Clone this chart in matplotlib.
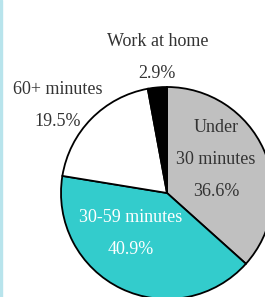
import matplotlib.pyplot as plt
from matplotlib.patches import Rectangle

categories = ['Under\n30 minutes', '30-59 minutes', '60+ minutes', 'Work at home']
shares = [36.6, 40.9, 19.5, 2.9]
colors = ['#c0c0c0', '#33cccc', '#ffffff', '#000000']

plt.rcParams['font.family'] = ['Liberation Serif', 'DejaVu Serif']

W, H = 265, 297
fig = plt.figure(figsize=(W / 100, H / 100), dpi=100)
ax = fig.add_axes([0, 0, 1, 1])
ax.set_xlim(0, W)
ax.set_ylim(0, H)
ax.axis('off')

cx, cy, r = 167, H - 193, 106
ax.pie(shares, colors=colors, startangle=90, counterclock=False,
       center=(cx, cy), radius=r,
       wedgeprops=dict(edgecolor='black', linewidth=1.3))
ax.set_xlim(0, W)
ax.set_ylim(0, H)
ax.set_aspect('auto')

txt = '#333333'
fs = 13
# labels (pixel positions measured from top)
ax.text(158, H - 42, 'Work at home', ha='center', va='center', fontsize=fs, color=txt)
ax.text(157, H - 74, f'{shares[3]}%', ha='center', va='center', fontsize=fs, color=txt)
ax.text(58, H - 90, '60+ minutes', ha='center', va='center', fontsize=fs, color=txt)
ax.text(58, H - 122, f'{shares[2]}%', ha='center', va='center', fontsize=fs, color=txt)
ax.text(216, H - 127, 'Under', ha='center', va='center', fontsize=fs, color=txt)
ax.text(216, H - 159, '30 minutes', ha='center', va='center', fontsize=fs, color=txt)
ax.text(216, H - 192, f'{shares[0]}%', ha='center', va='center', fontsize=fs, color=txt)
ax.text(131, H - 218, categories[1], ha='center', va='center', fontsize=fs, color='white')
ax.text(131, H - 250, f'{shares[1]}%', ha='center', va='center', fontsize=fs, color='white')

# thin left border
ax.add_patch(Rectangle((0, 0), 2, H, color='#b8e4ec', zorder=5, clip_on=False))

fig.savefig('out.png', dpi=100)
